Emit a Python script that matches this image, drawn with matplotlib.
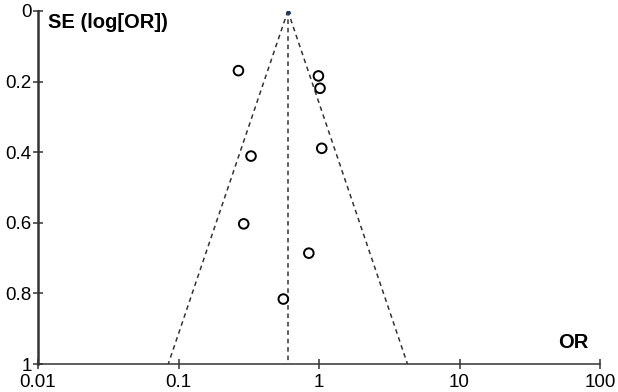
import matplotlib.pyplot as plt
import numpy as np

plt.rcParams['font.family'] = ['Liberation Sans', 'DejaVu Sans']

# study estimates
odds_ratio = [0.267, 0.328, 0.291, 0.557, 0.846, 0.99, 1.016, 1.045]
se_log_or = [0.169, 0.411, 0.603, 0.816, 0.686, 0.184, 0.219, 0.389]
pooled_or = 0.60

x_ticks = [0.01, 0.1, 1, 10, 100]
x_labels = ['0.01', '0.1', '1', '10', '100']
y_ticks = [0, 0.2, 0.4, 0.6, 0.8, 1]
y_labels = ['0', '0.2', '0.4', '0.6', '0.8', '1']

fig = plt.figure(figsize=(6.18, 3.92), dpi=100)
ax = fig.add_axes([0.0615, 0.0714, 0.9095, 0.9006])

# pseudo 95% confidence funnel
se = np.array([0, 1.0])
ax.plot(pooled_or * np.exp(-1.96 * se), se, ls=(0, (3, 2.5)), color='#333333', lw=1.1)
ax.plot(pooled_or * np.exp(1.96 * se), se, ls=(0, (3, 2.5)), color='#333333', lw=1.1)
ax.plot([pooled_or, pooled_or], [0, 1], ls=(0, (3, 2.5)), color='#333333', lw=1.1)
ax.plot([pooled_or], [0], marker='^', ms=3, color='#1f3a6e', zorder=4)

ax.scatter(odds_ratio, se_log_or, s=48, facecolors='none', edgecolors='black',
           linewidths=1.4, zorder=3)

ax.set_xscale('log')
ax.set_xlim(0.01, 100)
ax.set_ylim(1, 0)
ax.set_xticks(x_ticks)
ax.set_xticklabels(x_labels)
ax.minorticks_off()
ax.set_yticks(y_ticks)
ax.set_yticklabels(y_labels)

for side in ['top', 'right']:
    ax.spines[side].set_visible(False)
ax.spines['left'].set_linewidth(1.8)
ax.spines['bottom'].set_linewidth(1.1)
ax.spines['left'].set_color('#333333')
ax.spines['bottom'].set_color('#333333')
ax.tick_params(direction='inout', length=7, width=1.1, colors='#333333',
               labelsize=13.5, labelcolor='black')
ax.tick_params(axis='y', pad=1)
ax.tick_params(axis='x', pad=3.5)

ax.text(0.017, 0.995, 'SE (log[OR])', fontsize=14.5, fontweight='bold',
        transform=ax.transAxes, va='top', ha='left')
ax.text(0.98, 0.035, 'OR', fontsize=14.5, fontweight='bold',
        transform=ax.transAxes, va='bottom', ha='right')

fig.savefig('out.png', dpi=100)
